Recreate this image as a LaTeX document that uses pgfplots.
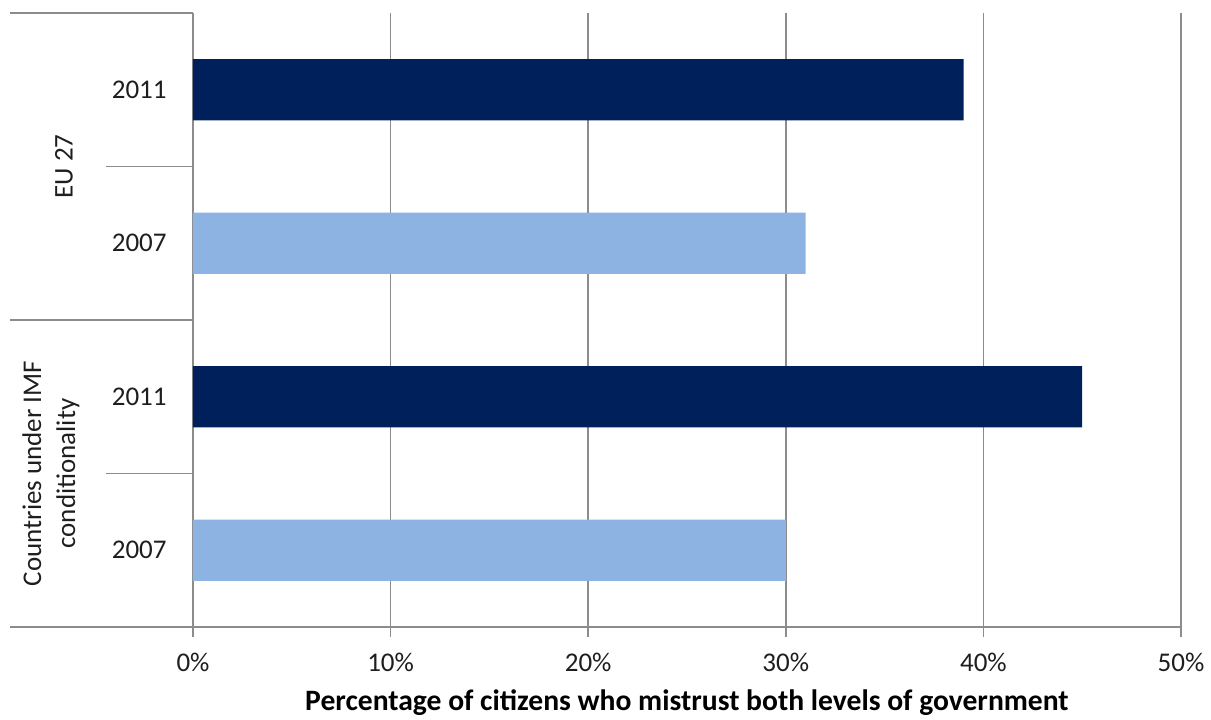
\documentclass[border=0pt]{standalone}
\usepackage{pgfplots}
\pgfplotsset{compat=1.18}
\usepackage{fontspec}
\setmainfont{Carlito}
\definecolor{dark}{RGB}{0,32,91}
\definecolor{light}{RGB}{141,179,226}
\definecolor{gridc}{RGB}{140,140,140}
\definecolor{txt}{RGB}{30,30,30}
\begin{document}
\begin{tikzpicture}
\path[use as bounding box] (-96.5pt,-46pt) rectangle (509pt,313.5pt);
\begin{axis}[
  width=494pt, height=307pt, scale only axis,
  clip=false,
  xbar, bar width=0.4, bar shift=0pt,
  xmin=0, xmax=50, ymin=-0.5, ymax=3.5,
  xtick={0,10,20,30,40,50},
  xticklabel={\pgfmathprintnumber{\tick}\%},
  /pgf/number format/assume math mode=true,
  ytick={0,1,2,3}, yticklabels={2007,2011,2007,2011},
  axis x line*=bottom, axis y line*=left,
  axis line style={gridc, line width=0.75pt},
  xmajorgrids, grid style={gridc, line width=0.75pt},
  tick align=outside, major tick length=5pt,
  x tick style={gridc, line width=0.75pt},
  y tick style={draw=none},
  tick label style={font=\fontsize{13.5}{16}\selectfont, text=txt},
  yticklabel style={anchor=east, inner sep=0pt, xshift=-8pt},
  xticklabel style={anchor=north, inner sep=0pt, yshift=-7.7pt},
  xlabel={Percentage of citizens who mistrust both levels of government},
  x label style={at={(axis description cs:0.5,0)}, anchor=center, yshift=-38pt,
    font=\bfseries\fontsize{14.8}{17}\selectfont, text=black},
]
\addplot[fill=dark, draw=none] coordinates {(39,3) (45,1)};
\addplot[fill=light, draw=none] coordinates {(31,2) (30,0)};
\draw[gridc, line width=0.75pt] (rel axis cs:-0.1852,0) -- (rel axis cs:0,0);
\draw[gridc, line width=0.75pt] (rel axis cs:-0.1852,0.5) -- (rel axis cs:0,0.5);
\draw[gridc, line width=0.75pt] (rel axis cs:-0.1852,1) -- (rel axis cs:0,1);
\draw[gridc, line width=0.75pt] (rel axis cs:-0.088,0.25) -- (rel axis cs:0,0.25);
\draw[gridc, line width=0.75pt] (rel axis cs:-0.088,0.75) -- (rel axis cs:0,0.75);
\node[rotate=90, font=\fontsize{13.5}{16.5}\selectfont, text=txt] at (rel axis cs:-0.1306,0.75) {EU 27};
\node[rotate=90, align=center, font=\fontsize{13.5}{17}\selectfont, text=txt] at (rel axis cs:-0.1437,0.25) {Countries under IMF\\conditionality};
\end{axis}
\end{tikzpicture}
\end{document}
